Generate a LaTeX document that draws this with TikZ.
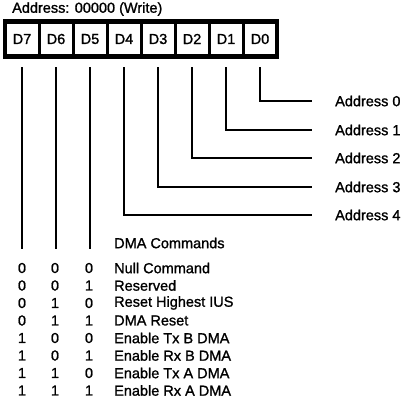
\documentclass[tikz,border=0pt]{standalone}
\usepackage{fontspec}
\newfontfamily\diagfont{Liberation Sans}[FakeBold=1.2]

\tikzset{
  bitcell/.style={draw, line width=3pt, minimum width=34pt, minimum height=35pt,
                  inner sep=0pt, font=\diagfont\fontsize{14.5}{16}\selectfont},
  wire/.style={line width=2.5pt},
  txt/.style={inner sep=0pt, anchor=west, font=\diagfont\fontsize{14.5}{16}\selectfont},
  bit/.style={inner sep=0pt, font=\diagfont\fontsize{14.5}{16}\selectfont}
}

\begin{document}
\begin{tikzpicture}[x=1pt,y=-1pt]
\useasboundingbox (0,0) rectangle (402,399);
% register
\node[txt] (title) at (12,9) {Address: 00000 (Write)};
\foreach \b [count=\i from 0] in {7,...,0}
  \node[bitcell] (D\b) at (22+34*\i,39) {D\b};
\draw[line width=4.5pt] ([shift={(1.5,1.5)}]D7.north west) 
                     rectangle ([shift={(-1.5,-1.5)}]D0.south east);
% address bits
\foreach \b/\y in {0/101,1/130,2/158,3/187,4/215} {
  \node[txt] (a\b) at (335,\y) {Address \b};
  \draw[wire] ([yshift=-9pt]D\b.south) |- ([xshift=-23pt]a\b.west);
}
% command bits
\node[txt] (dma) at (114,243) {DMA Commands};
\foreach \b in {7,6,5}
  \draw[wire] ([yshift=-9pt]D\b.south) -- (D\b.south |- dma.south);
\foreach \p/\q/\r/\cmd [count=\i from 0] in
    {0/0/0/Null Command, 0/0/1/Reserved, 0/1/0/Reset Highest IUS,
     0/1/1/DMA Reset, 1/0/0/Enable Tx B DMA, 1/0/1/Enable Rx B DMA,
     1/1/0/Enable Tx A DMA, 1/1/1/Enable Rx A DMA} {
  \node[bit] (p\i) at (22,268+17.5*\i) {\p};
  \node[bit] (q\i) at (55,268+17.5*\i) {\q};
  \node[bit] (r\i) at (89,268+17.5*\i) {\r};
  \node[txt] (c\i) at (114,268+17.5*\i) {\cmd};
}
\end{tikzpicture}
\end{document}
